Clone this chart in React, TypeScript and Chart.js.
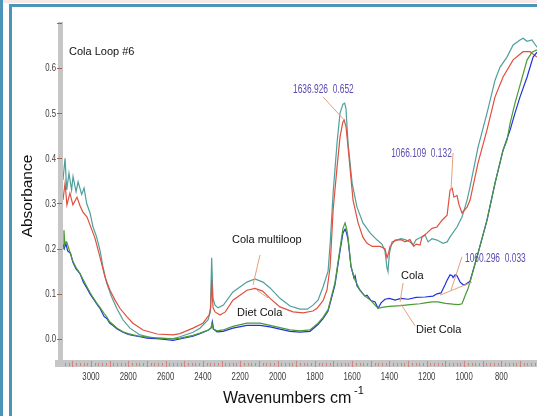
import React, { useEffect, useRef } from "react";
import { Chart, registerables } from "chart.js";

Chart.register(...registerables);

const W = 537;
const H = 416;

// Wavenumber (cm-1) / absorbance pairs
const colaMultiloop: [number, number][] = [
  [3150, 0.352], [3139, 0.40], [3130, 0.33], [3118, 0.367], [3104, 0.33], [3096, 0.36], [3080, 0.326],
  [3069, 0.348], [3050, 0.32], [3037, 0.334], [3023, 0.30], [3005, 0.279], [2989, 0.248], [2970, 0.226],
  [2952, 0.197], [2936, 0.16], [2916, 0.124], [2889, 0.093], [2862, 0.068], [2828, 0.042], [2791, 0.024],
  [2737, 0.009], [2667, 0.002], [2560, 0.001], [2523, 0.005], [2453, 0.015], [2416, 0.024], [2373, 0.042],
  [2360, 0.06], [2353, 0.18], [2346, 0.09], [2335, 0.075], [2319, 0.069], [2290, 0.075], [2239, 0.104],
  [2164, 0.126], [2121, 0.133], [2078, 0.126], [2040, 0.113], [1987, 0.09], [1933, 0.073], [1880, 0.066],
  [1840, 0.066], [1810, 0.075], [1783, 0.086], [1756, 0.115], [1729, 0.15], [1718, 0.21], [1702, 0.323],
  [1681, 0.434], [1665, 0.50], [1649, 0.52], [1640, 0.522], [1633, 0.51], [1622, 0.434], [1600, 0.345],
  [1574, 0.292], [1542, 0.257], [1504, 0.235], [1466, 0.219], [1440, 0.21], [1424, 0.195], [1413, 0.157],
  [1408, 0.15], [1400, 0.19], [1386, 0.215], [1360, 0.219], [1338, 0.222], [1316, 0.22], [1290, 0.215],
  [1273, 0.208], [1257, 0.22], [1236, 0.224], [1209, 0.23], [1193, 0.215], [1172, 0.222], [1145, 0.219],
  [1113, 0.212], [1091, 0.215], [1075, 0.226], [1038, 0.248], [1011, 0.27], [984, 0.307], [968, 0.337],
  [925, 0.425], [877, 0.50], [834, 0.573], [807, 0.602], [770, 0.624], [737, 0.651], [700, 0.662],
  [684, 0.666], [662, 0.659], [636, 0.662], [609, 0.646],
];

const dietColaMultiloop: [number, number][] = [
  [3150, 0.308], [3139, 0.345], [3129, 0.297], [3113, 0.323], [3097, 0.297], [3075, 0.314], [3059, 0.295],
  [3043, 0.281], [3021, 0.27], [3005, 0.252], [2979, 0.224], [2952, 0.182], [2925, 0.137], [2898, 0.108],
  [2871, 0.086], [2845, 0.068], [2807, 0.049], [2775, 0.035], [2721, 0.02], [2646, 0.011], [2560, 0.009],
  [2523, 0.012], [2453, 0.024], [2400, 0.035], [2367, 0.053], [2358, 0.07], [2353, 0.13], [2346, 0.07],
  [2335, 0.06], [2308, 0.053], [2280, 0.06], [2239, 0.086], [2164, 0.108], [2121, 0.112], [2080, 0.106],
  [2040, 0.09], [1987, 0.071], [1917, 0.06], [1863, 0.058], [1810, 0.062], [1788, 0.068], [1756, 0.085],
  [1735, 0.108], [1718, 0.16], [1702, 0.285], [1681, 0.38], [1665, 0.447], [1650, 0.48], [1643, 0.485],
  [1633, 0.47], [1622, 0.425], [1595, 0.307], [1568, 0.257], [1542, 0.225], [1520, 0.212], [1493, 0.205],
  [1450, 0.205], [1424, 0.2], [1413, 0.18], [1405, 0.19], [1397, 0.205], [1370, 0.219], [1338, 0.22],
  [1316, 0.215], [1290, 0.22], [1270, 0.205], [1257, 0.21], [1236, 0.208], [1225, 0.226], [1198, 0.235],
  [1172, 0.245], [1145, 0.248], [1118, 0.263], [1091, 0.274], [1075, 0.33], [1064, 0.334], [1054, 0.314],
  [1038, 0.318], [1027, 0.297], [1011, 0.279], [984, 0.292], [968, 0.307], [925, 0.39], [877, 0.463],
  [834, 0.536], [791, 0.58], [737, 0.618], [684, 0.636], [646, 0.636], [609, 0.624],
];

const cola: [number, number][] = [
  [3150, 0.21], [3143, 0.2], [3135, 0.212], [3125, 0.195], [3110, 0.19], [3097, 0.17], [3080, 0.155],
  [3059, 0.145], [3040, 0.125], [3021, 0.112], [3005, 0.1], [2989, 0.09], [2970, 0.078], [2952, 0.068],
  [2930, 0.05], [2914, 0.045], [2900, 0.035], [2882, 0.03], [2860, 0.022], [2828, 0.015], [2800, 0.01],
  [2775, 0.008], [2737, 0.005], [2700, 0.002], [2630, 0.0], [2560, -0.003], [2523, 0.0], [2453, 0.006],
  [2416, 0.012], [2370, 0.02], [2355, 0.025], [2349, 0.038], [2343, 0.022], [2324, 0.016], [2292, 0.017],
  [2239, 0.024], [2164, 0.03], [2094, 0.03], [2040, 0.027], [1987, 0.022], [1933, 0.017], [1880, 0.015],
  [1826, 0.017], [1783, 0.032], [1756, 0.045], [1729, 0.062], [1692, 0.12], [1665, 0.195], [1649, 0.235],
  [1638, 0.243], [1630, 0.235], [1622, 0.22], [1606, 0.16], [1590, 0.135], [1584, 0.14], [1574, 0.118],
  [1558, 0.108], [1542, 0.1], [1531, 0.095], [1520, 0.097], [1499, 0.085], [1477, 0.082], [1461, 0.068],
  [1445, 0.08], [1424, 0.088], [1400, 0.09], [1370, 0.086], [1338, 0.09], [1300, 0.088], [1257, 0.092],
  [1209, 0.093], [1166, 0.095], [1145, 0.1], [1123, 0.102], [1102, 0.12], [1091, 0.13], [1075, 0.142],
  [1064, 0.14], [1059, 0.136], [1048, 0.142], [1038, 0.14], [1021, 0.126], [1005, 0.12], [995, 0.12],
  [968, 0.128], [925, 0.19], [877, 0.263], [834, 0.345], [791, 0.418], [753, 0.463], [727, 0.50],
  [700, 0.536], [662, 0.58], [630, 0.624], [609, 0.635],
];

const dietCola: [number, number][] = [
  [3150, 0.2], [3145, 0.241], [3140, 0.21], [3130, 0.215], [3115, 0.195], [3097, 0.172], [3080, 0.158],
  [3059, 0.145], [3040, 0.13], [3021, 0.115], [3005, 0.103], [2989, 0.092], [2970, 0.08], [2952, 0.07],
  [2930, 0.057], [2914, 0.048], [2900, 0.038], [2882, 0.032], [2860, 0.024], [2828, 0.016], [2800, 0.012],
  [2775, 0.009], [2737, 0.006], [2700, 0.004], [2630, 0.002], [2560, 0.0], [2523, 0.002], [2453, 0.008],
  [2416, 0.013], [2370, 0.02], [2356, 0.025], [2351, 0.035], [2345, 0.022], [2324, 0.018], [2292, 0.02],
  [2239, 0.028], [2164, 0.035], [2094, 0.035], [2040, 0.03], [1987, 0.025], [1933, 0.02], [1880, 0.018],
  [1826, 0.02], [1783, 0.035], [1756, 0.048], [1729, 0.065], [1692, 0.125], [1665, 0.2], [1649, 0.245],
  [1638, 0.257], [1630, 0.245], [1622, 0.225], [1606, 0.16], [1584, 0.13], [1558, 0.108], [1531, 0.095],
  [1499, 0.085], [1477, 0.075], [1461, 0.068], [1440, 0.07], [1400, 0.072], [1338, 0.074], [1290, 0.076],
  [1236, 0.078], [1209, 0.08], [1172, 0.082], [1140, 0.082], [1100, 0.079], [1060, 0.077], [1030, 0.076],
  [1011, 0.078], [995, 0.095], [980, 0.11], [968, 0.126], [925, 0.19], [877, 0.263], [834, 0.345],
  [791, 0.418], [770, 0.44], [753, 0.478], [727, 0.522], [700, 0.562], [662, 0.618], [636, 0.635],
  [609, 0.64],
];

const xTickLabels = [3000, 2800, 2600, 2400, 2200, 2000, 1800, 1600, 1400, 1200, 1000, 800];
const yTickLabels = [0.0, 0.1, 0.2, 0.3, 0.4, 0.5, 0.6];
const yTickMarks = [0.0, 0.1, 0.2, 0.3, 0.4, 0.5, 0.6, 0.7];

const X_MIN = 609;
const X_MAX = 3150;
const Y_MIN = -0.0443;
const Y_MAX = 0.7018;

// Text annotations placed in data coordinates (wavenumber, absorbance)
const textNotes = [
  { text: "Cola Loop #6", wn: 3118, abs: 0.629, kind: "black" },
  { text: "1636.926  0.652", wn: 1917, abs: 0.545, kind: "peak" },
  { text: "1066.109  0.132", wn: 1391, abs: 0.403, kind: "peak" },
  { text: "1060.296  0.033", wn: 995, abs: 0.17, kind: "peak" },
  { text: "Cola multiloop", wn: 2244, abs: 0.2125, kind: "black" },
  { text: "Diet Cola", wn: 2217, abs: 0.051, kind: "black" },
  { text: "Cola", wn: 1338, abs: 0.133, kind: "black" },
  { text: "Diet Cola", wn: 1257, abs: 0.013, kind: "black" },
];

// Leader lines: [wn1, abs1, wn2, abs2]
const leaderLines: [number, number, number, number][] = [
  [1756, 0.536, 1643, 0.485],
  [1059, 0.412, 1070, 0.33],
  [1011, 0.182, 1070, 0.108],
  [1129, 0.097, 957, 0.126],
  [2094, 0.186, 2131, 0.12],
  [2110, 0.108, 2051, 0.091],
  [1327, 0.124, 1343, 0.082],
  [1338, 0.077, 1263, 0.029],
];

const SANS = '"Liberation Sans", Arial, sans-serif';

function narrowText(
  ctx: CanvasRenderingContext2D,
  text: string,
  x: number,
  y: number,
  size: number,
  color: string,
  align: CanvasTextAlign,
  baseline: CanvasTextBaseline,
  squeeze = 0.76
) {
  ctx.save();
  ctx.translate(x, y);
  ctx.scale(squeeze, 1);
  ctx.font = `${size}px ${SANS}`;
  ctx.fillStyle = color;
  ctx.textAlign = align;
  ctx.textBaseline = baseline;
  ctx.fillText(text, 0, 0);
  ctx.restore();
}

const decorPlugin = {
  id: "decor",
  beforeDraw(chart: any) {
    const ctx = chart.ctx;
    ctx.save();
    ctx.fillStyle = "#ffffff";
    ctx.fillRect(0, 0, W, H);
    ctx.fillStyle = "#f7e9e7";
    ctx.fillRect(3, 0, W - 3, 3);
    ctx.fillStyle = "#4a96b8";
    ctx.fillRect(0, 0, 3, H);
    ctx.fillRect(9, 4, 3, H - 4);
    ctx.fillRect(9, 4, W - 9, 3);
    ctx.restore();
  },
  beforeDatasetsDraw(chart: any) {
    const { ctx, chartArea } = chart;
    const xs = chart.scales.x;
    const ys = chart.scales.y;
    ctx.save();
    ctx.fillStyle = "#c6c6c6";
    ctx.fillRect(chartArea.left - 5, chartArea.top, 5, chartArea.bottom - chartArea.top + 8);
    ctx.fillRect(chartArea.left - 8, chartArea.bottom + 1, W, 7);
    // y tick dashes
    ctx.strokeStyle = "#b0605a";
    ctx.lineWidth = 1;
    for (const v of yTickMarks) {
      const py = Math.round(ys.getPixelForValue(v)) + 0.5;
      ctx.beginPath();
      ctx.moveTo(chartArea.left - 6, py);
      ctx.lineTo(chartArea.left - 1, py);
      ctx.stroke();
    }
    // x tick marks
    ctx.strokeStyle = "#d68080";
    for (let wn = 620; wn <= 3140; wn += 20) {
      const px = Math.round(xs.getPixelForValue(wn)) + 0.5;
      const major = wn % 100 === 0;
      ctx.beginPath();
      ctx.moveTo(px, chartArea.bottom + (major ? 2 : 4));
      ctx.lineTo(px, chartArea.bottom + (major ? 8 : 7));
      ctx.stroke();
    }
    // tick labels (condensed), positioned through the scales
    for (const t of xs.ticks) {
      narrowText(ctx, String(t.value), xs.getPixelForValue(t.value), chartArea.bottom + 21, 10.5, "#3a3a3a", "center", "alphabetic", 0.74);
    }
    for (const t of ys.ticks) {
      narrowText(ctx, Number(t.value).toFixed(1), chartArea.left - 7, ys.getPixelForValue(t.value) + 3.5, 10.5, "#3a3a3a", "right", "alphabetic", 0.74);
    }
    ctx.restore();
  },
  afterDraw(chart: any) {
    const { ctx } = chart;
    const xs = chart.scales.x;
    const ys = chart.scales.y;
    ctx.save();
    // leader lines
    ctx.strokeStyle = "#e3a27c";
    ctx.lineWidth = 1;
    for (const [w1, a1, w2, a2] of leaderLines) {
      ctx.beginPath();
      ctx.moveTo(xs.getPixelForValue(w1), ys.getPixelForValue(a1));
      ctx.lineTo(xs.getPixelForValue(w2), ys.getPixelForValue(a2));
      ctx.stroke();
    }
    // annotation texts
    for (const n of textNotes) {
      const px = xs.getPixelForValue(n.wn);
      const py = ys.getPixelForValue(n.abs);
      if (n.kind === "peak") {
        narrowText(ctx, n.text, px, py, 12, "#5a4cb0", "left", "alphabetic", 0.7);
      } else {
        ctx.font = `11px ${SANS}`;
        ctx.fillStyle = "#111111";
        ctx.textAlign = "left";
        ctx.textBaseline = "alphabetic";
        ctx.fillText(n.text, px, py);
      }
    }
    // axis titles
    ctx.fillStyle = "#111111";
    ctx.textAlign = "left";
    ctx.textBaseline = "alphabetic";
    ctx.font = `16px ${SANS}`;
    ctx.fillText("Wavenumbers cm", 223, 403);
    ctx.font = `11px ${SANS}`;
    ctx.fillText("-1", 354, 394);
    ctx.translate(32, 196);
    ctx.rotate(-Math.PI / 2);
    ctx.textAlign = "center";
    ctx.font = `15.5px ${SANS}`;
    ctx.fillText("Absorbance", 0, 0);
    ctx.restore();
  },
};

export default function App() {
  const ref = useRef<HTMLCanvasElement | null>(null);

  useEffect(() => {
    if (!ref.current) return;
    const toXY = (arr: [number, number][]) => arr.map(([x, y]) => ({ x, y }));
    const line = (label: string, data: [number, number][], color: string) => ({
      label,
      data: toXY(data),
      borderColor: color,
      backgroundColor: color,
      borderWidth: 1.2,
      pointRadius: 0,
      tension: 0,
      fill: false,
    });
    const chart = new Chart(ref.current, {
      type: "line",
      data: {
        datasets: [
          line("Diet Cola", dietCola, "#4a9a34"),
          line("Cola", cola, "#2233dd"),
          line("Diet Cola multiloop", dietColaMultiloop, "#e0503e"),
          line("Cola multiloop", colaMultiloop, "#4f9f9b"),
        ],
      },
      options: {
        responsive: false,
        animation: false,
        devicePixelRatio: 1,
        layout: { padding: { top: 22, left: 0, right: 0, bottom: 0 } },
        plugins: {
          legend: { display: false },
          tooltip: { enabled: false },
          title: { display: false },
        },
        scales: {
          x: {
            type: "linear",
            reverse: true,
            min: X_MIN,
            max: X_MAX,
            grid: { display: false, drawTicks: false },
            border: { display: false },
            ticks: { display: false, autoSkip: false, includeBounds: false },
            afterBuildTicks: (s: any) => {
              s.ticks = xTickLabels.map((v) => ({ value: v }));
            },
            afterFit: (s: any) => {
              s.height = 57;
            },
          },
          y: {
            type: "linear",
            min: Y_MIN,
            max: Y_MAX,
            grid: { display: false, drawTicks: false },
            border: { display: false },
            ticks: { display: false, autoSkip: false, includeBounds: false },
            afterBuildTicks: (s: any) => {
              s.ticks = yTickLabels.map((v) => ({ value: v }));
            },
            afterFit: (s: any) => {
              s.width = 63;
            },
          },
        },
      },
      plugins: [decorPlugin],
    } as any);
    return () => chart.destroy();
  }, []);

  return (
    <div style={{ position: "absolute", left: 0, top: 0, width: W, height: H, background: "#fff" }}>
      <canvas ref={ref} width={W} height={H} style={{ display: "block", width: W, height: H }} />
    </div>
  );
}
